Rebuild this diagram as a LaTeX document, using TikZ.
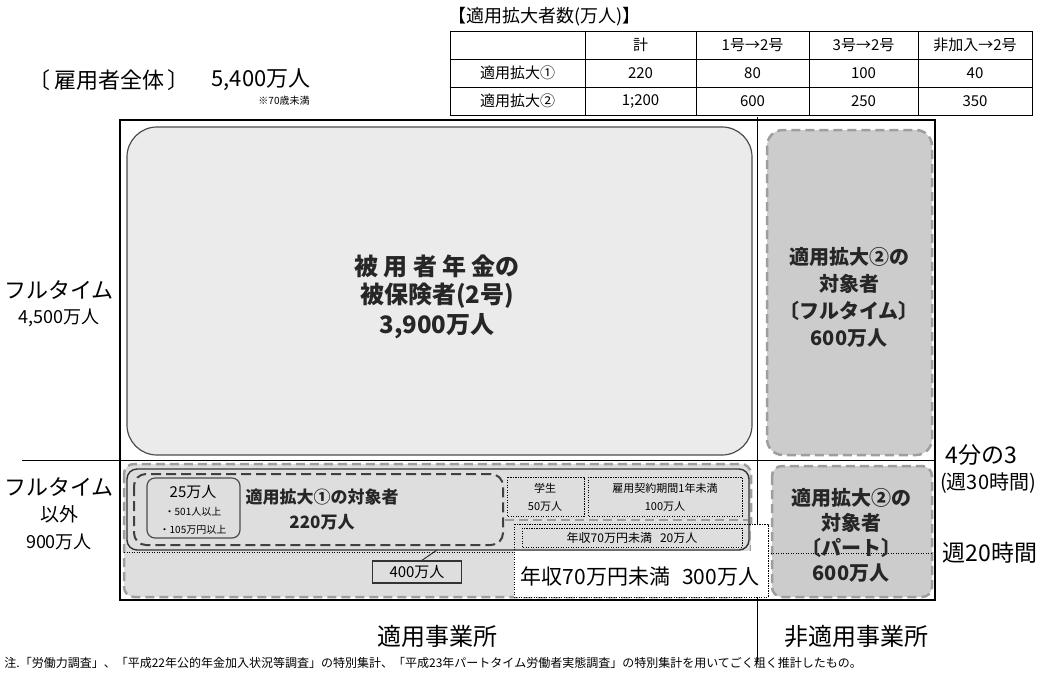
\documentclass[tikz,border=0pt]{standalone}
\usepackage{fontspec}
\setmainfont{Noto Sans CJK JP}
\usepackage{tikz}

\definecolor{lightfill}{gray}{0.92}
\definecolor{midfill}{gray}{0.80}
\definecolor{lowfill}{gray}{0.87}
\definecolor{dashgray}{gray}{0.62}

\begin{document}
\begin{tikzpicture}[x=1pt, y=-1pt, line width=1pt,
  txt/.style={font=\fontsize{#1}{#1}\selectfont, inner sep=0pt},
  btxt/.style={font=\fontsize{#1}{#1}\selectfont\bfseries, inner sep=0pt, text=black!85},
  graydash/.style={draw=dashgray, line width=2.5pt, dash pattern=on 9pt off 5pt},
  darkdash/.style={draw=black!75, line width=2pt, dash pattern=on 10pt off 5pt},
  dotbox/.style={draw=black, line width=1pt, dash pattern=on 1.2pt off 1.3pt}]

\useasboundingbox (0,0) rectangle (1040,673);

% draw table
\node[txt=18, anchor=west] (tabtitle) at (448,17) {【適用拡大者数(万人)】};
\draw[line width=0.8pt] (450,31) rectangle (1032,115);
\foreach \y in {59,87} \draw[line width=0.6pt] (450,\y) -- (1032,\y);
\foreach \x in {585,696,809,918} \draw[line width=0.6pt] (\x,31) -- (\x,115);

\foreach \t [count=\i] in {計,1号→2号,3号→2号,非加入→2号} {
  \pgfmathsetmacro{\cx}{{640.5,752.5,863.5,975}[\i-1]}
  \node[txt=15] (head-\i) at (\cx,45) {\t};
}
\node[txt=15] (row-1) at (517.5,73) {適用拡大①};
\node[txt=15] (row-2) at (517.5,101) {適用拡大②};
\foreach \a/\b/\c/\d [count=\j] in {220/80/100/40,1;200/600/250/350} {
  \pgfmathsetmacro{\cy}{45+28*\j}
  \node[txt=15] (val-\j-1) at (640.5,\cy) {\a};
  \node[txt=15] (val-\j-2) at (752.5,\cy) {\b};
  \node[txt=15] (val-\j-3) at (863.5,\cy) {\c};
  \node[txt=15] (val-\j-4) at (975,\cy) {\d};
}

% draw heading
\node[txt=22, anchor=west] (total) at (28,80) {〔\,雇用者全体\,〕};
\node[txt=22, anchor=west] (totalnum) at (211,80) {5,400万人};
\node[txt=10] (agenote) at (284,101) {※70歳未満};

% draw frame and dividers
\draw[line width=1.6pt] (120,120) rectangle (935,600);
\draw[line width=0.8pt] (757,117) -- (757,662);
\draw[line width=0.8pt] (22,460) -- (935,460);

% draw fulltime part
\draw[fill=lightfill, draw=black!70, line width=1.2pt, rounded corners=30pt] (127,127) rectangle (752,455);
\node[btxt=24, align=center] (insured) at (437,297) {被 用 者 年 金の\\[4pt]被保険者(2号)\\[4pt]3,900万人};

\draw[fill=midfill, graydash, rounded corners=16pt] (767,130) rectangle (932,455);
\node[btxt=20, align=center] (ext2full) at (849,297) {適用拡大②の\\[7pt]対象者\\[7pt]〔フルタイム〕\\[7pt]600万人};

% draw part-time part
\draw[fill=lowfill, graydash, rounded corners=10pt] (124,464) rectangle (751,597);
\draw[fill=midfill, graydash, rounded corners=10pt] (772,466) rectangle (932,597);

\draw[fill=lowfill, draw=black!80, line width=1.4pt, rounded corners=10pt] (127,469) rectangle (749,550);
\fill[white] (514,551) rectangle (768,597);
\fill[white] (751,524) rectangle (768,551);
\draw[dotbox] (514,524) rectangle (768,597);

\draw[darkdash, rounded corners=12pt] (134,474) rectangle (503,545);
\draw[draw=black!70, line width=1.2pt, rounded corners=8pt] (147,478) rectangle (240,538);
\node[txt=15] (s25) at (193,492) {25万人};
\node[txt=10] (s501) at (193,512) {・501人以上};
\node[txt=10] (s105) at (193,530) {・105万円以上};
\node[btxt=17] (ext1) at (322,497) {適用拡大①の対象者};
\node[btxt=17] (ext1num) at (322,522) {220万人};

\draw[dotbox] (507,477) rectangle (584,516);
\node[txt=11] (student) at (545,488) {学生};
\node[txt=11] (studentnum) at (545,506) {50万人};
\draw[dotbox] (588,477) rectangle (742,516);
\node[txt=11] (contract) at (665,488) {雇用契約期間1年未満};
\node[txt=11] (contractnum) at (665,506) {100万人};
\draw[graydash, line width=2pt] (505,520) -- (748,520);

\draw[dotbox] (522,528) rectangle (742,547);
\node[txt=12] (low20) at (632,538) {年収70万円未満\hspace{8pt}20万人};

\draw[dotbox] (124,552) -- (512,552);
\draw[dotbox] (768,553) -- (932,553);

\node[txt=15, draw=black!80, line width=1.4pt, fill=lowfill, minimum width=89pt, minimum height=22pt] (n400) at (417,572) {400万人};
\coordinate (n400tip) at (437,550);
\draw[line width=1pt, draw=black!80] (n400.north) ++(5,0) coordinate (n400top) (n400top) -- (n400tip);

\node[txt=21] (low300) at (640,576) {年収70万円未満\hspace{12pt}300万人};

\node[btxt=20, align=center] (ext2part) at (851,535) {適用拡大②の\\[5pt]対象者\\[5pt]〔パート〕\\[5pt]600万人};

% draw side labels
\node[txt=22] (fullt) at (59,290) {フルタイム};
\node[txt=18] (fulltnum) at (59,318) {4,500万人};
\node[txt=22] (partt) at (59,487) {フルタイム};
\node[txt=19] (parttx) at (59,514) {以外};
\node[txt=18] (parttnum) at (59,542) {900万人};

\node[txt=23] (quarter) at (981,455) {4分の3};
\node[txt=20] (h30) at (988,483) {(週30時間)};
\node[txt=23] (h20) at (990,553) {週20時間};

% draw bottom labels
\node[txt=24] (applied) at (437,636) {適用事業所};
\node[txt=24] (notapplied) at (856,636) {非適用事業所};
\node[txt=12, anchor=west] (source) at (4,663) {注.「労働力調査」、「平成22年公的年金加入状況等調査」の特別集計、「平成23年パートタイム労働者実態調査」の特別集計を用いてごく粗く推計したもの。};

\end{tikzpicture}
\end{document}
